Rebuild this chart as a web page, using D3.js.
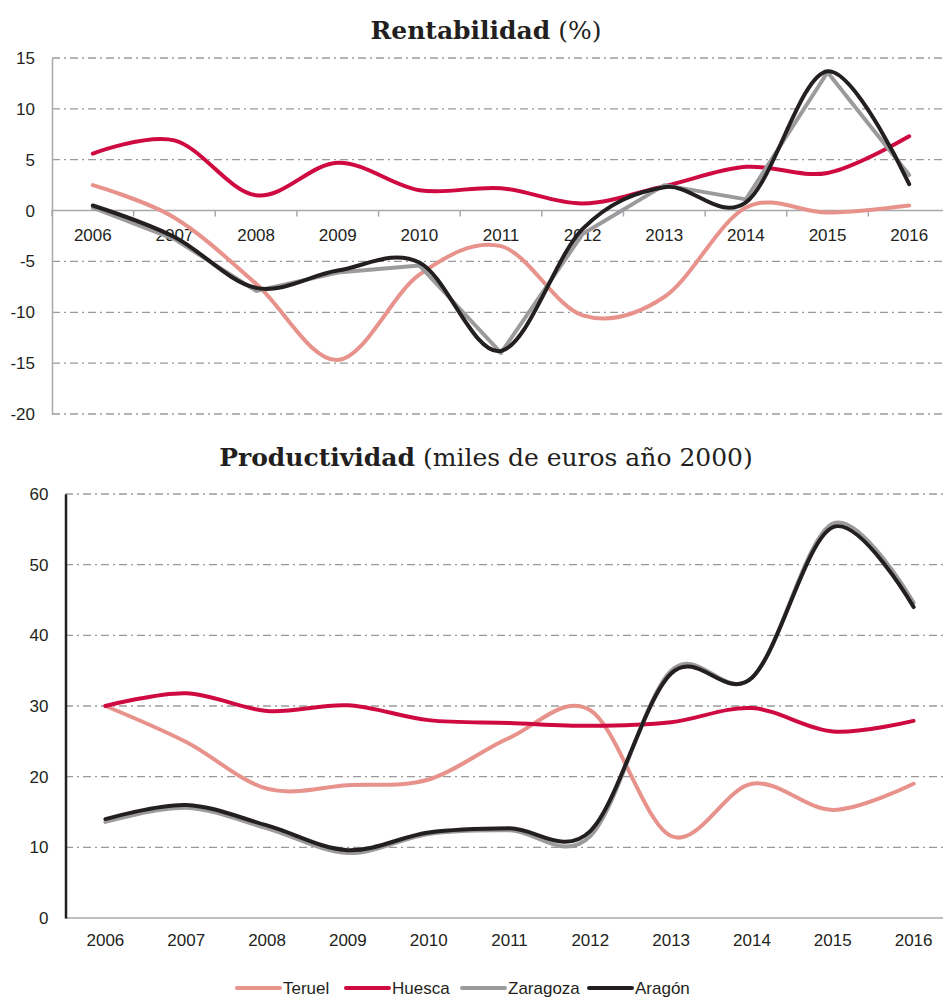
<!DOCTYPE html>
<html>
<head>
<meta charset="utf-8">
<script src="https://cdn.jsdelivr.net/npm/d3@7"></script>
<style>
  body { margin: 0; background: #fff; }
  svg { display: block; }
</style>
</head>
<body>
<div id="chart"></div>
<script>
// data
const years = ["2006","2007","2008","2009","2010","2011","2012","2013","2014","2015","2016"]
const series_names = ["Teruel", "Huesca", "Zaragoza", "Aragón"]
const series_colors = ["#e8928c", "#cf0a40", "#9b9b9e", "#231f20"]

// Rentabilidad (%)
const rent_teruel   = [2.5, -0.7, -7.2, -14.7, -6.3, -3.5, -10.3, -8.5, 0.3, -0.2, 0.5]
const rent_huesca   = [5.6, 6.9, 1.5, 4.7, 2.0, 2.2, 0.7, 2.4, 4.3, 3.7, 7.3]
const rent_zaragoza = [0.3, -2.8, -7.9, -6.1, -5.4, -14.0, -2.3, 2.5, 1.1, 13.6, 3.5]
const rent_aragon   = [0.5, -2.6, -7.6, -5.9, -5.1, -13.8, -1.8, 2.3, 0.8, 13.7, 2.6]
const rent_ticks = [15, 10, 5, 0, -5, -10, -15, -20]

// Productividad (miles de euros año 2000)
const prod_teruel   = [30.0, 24.9, 18.3, 18.8, 19.6, 25.5, 29.4, 11.6, 19.0, 15.3, 19.0]
const prod_huesca   = [30.0, 31.8, 29.3, 30.1, 28.0, 27.6, 27.2, 27.7, 29.7, 26.4, 27.9]
const prod_zaragoza = [13.6, 15.6, 12.7, 9.2, 11.9, 12.4, 11.6, 35.0, 34.0, 55.8, 44.6]
const prod_aragon   = [14.0, 16.0, 13.1, 9.6, 12.1, 12.7, 12.3, 34.6, 34.0, 55.3, 44.0]
const prod_ticks = [0, 10, 20, 30, 40, 50, 60]

const W = 943, H = 997
const grid_color = "#9a9a9a"
const grid_dash = "8,4,2,4"
const label_font = "'Liberation Sans', Arial, sans-serif"
const label_size = 17
const title_font = "'DejaVu Serif', serif"

var svg = d3.select("#chart").append("svg")
    .attr("width", W)
    .attr("height", H)

function smooth(){ return d3.curveCardinal.tension(0) }

function draw_title(y, bold, rest){
    let t = svg.append("text")
        .attr("x", 486)
        .attr("y", y)
        .attr("text-anchor", "middle")
        .attr("font-family", title_font)
        .attr("font-size", 25)
        .attr("fill", "#231f20")
    t.append("tspan").attr("font-weight", "bold").text(bold)
    t.append("tspan").attr("font-weight", "normal").text(" " + rest)
}

function draw_lines(g, x, y, values_list, curves){
    values_list.forEach((vals, i) => {
        let line = d3.line()
            .x((d, j) => x(years[j]) + x.bandwidth() / 2)
            .y(d => y(d))
            .curve(curves[i])
        g.append("path")
            .datum(vals)
            .attr("fill", "none")
            .attr("stroke", series_colors[i])
            .attr("stroke-width", 4)
            .attr("stroke-linecap", "round")
            .attr("stroke-linejoin", "round")
            .attr("d", line)
    })
}

// ---------- Top chart: Rentabilidad ----------
draw_title(39, "Rentabilidad", "(%)")

var x1 = d3.scaleBand().domain(years).range([52, 950])
var y1 = d3.scaleLinear().domain([-20, 15]).range([414, 58])

var g1 = svg.append("g")

// grid
g1.selectAll(".grid")
    .data(rent_ticks.filter(d => d != 0))
    .enter().append("line")
    .attr("x1", 52).attr("x2", W)
    .attr("y1", d => y1(d)).attr("y2", d => y1(d))
    .attr("stroke", grid_color)
    .attr("stroke-width", 1.3)
    .attr("stroke-dasharray", grid_dash)

// y axis
g1.append("g")
    .attr("transform", "translate(52,0)")
    .call(d3.axisLeft(y1).tickValues(rent_ticks).tickFormat(d => String(d)).tickSize(0).tickPadding(17))
    .call(a => a.select(".domain").attr("stroke", "#a7a9ac").attr("stroke-width", 1.5))
    .call(a => a.selectAll("text")
        .attr("font-family", label_font).attr("font-size", label_size).attr("fill", "#231f20"))

// x axis at zero
var x1_axis = g1.append("g")
    .attr("transform", "translate(0," + y1(0) + ")")
x1_axis.append("line")
    .attr("x1", 52).attr("x2", W)
    .attr("stroke", "#a7a9ac").attr("stroke-width", 1.5)
x1_axis.selectAll(".tick-mark")
    .data(years)
    .enter().append("line")
    .attr("x1", d => x1(d)).attr("x2", d => x1(d))
    .attr("y1", 0).attr("y2", 6)
    .attr("stroke", "#a7a9ac").attr("stroke-width", 1.5)
x1_axis.selectAll(".lbl")
    .data(years)
    .enter().append("text")
    .attr("x", d => x1(d) + x1.bandwidth() / 2)
    .attr("y", 30)
    .attr("text-anchor", "middle")
    .attr("font-family", label_font).attr("font-size", label_size).attr("fill", "#231f20")
    .text(d => d)

draw_lines(g1, x1, y1,
    [rent_teruel, rent_huesca, rent_zaragoza, rent_aragon],
    [smooth(), smooth(), d3.curveLinear, smooth()])

// ---------- Bottom chart: Productividad ----------
draw_title(466, "Productividad", "(miles de euros año 2000)")

var x2 = d3.scaleBand().domain(years).range([65, 954])
var y2 = d3.scaleLinear().domain([0, 60]).range([918, 494])

var g2 = svg.append("g")

g2.selectAll(".grid")
    .data(prod_ticks.filter(d => d != 0))
    .enter().append("line")
    .attr("x1", 65).attr("x2", W)
    .attr("y1", d => y2(d)).attr("y2", d => y2(d))
    .attr("stroke", grid_color)
    .attr("stroke-width", 1.3)
    .attr("stroke-dasharray", grid_dash)

// x axis
g2.append("line")
    .attr("x1", 65).attr("x2", W)
    .attr("y1", y2(0)).attr("y2", y2(0))
    .attr("stroke", "#a7a9ac").attr("stroke-width", 1.5)

g2.append("g")
    .attr("transform", "translate(0," + y2(0) + ")")
    .call(d3.axisBottom(x2).tickSize(0).tickPadding(16))
    .call(a => a.select(".domain").remove())
    .call(a => a.selectAll("text")
        .attr("font-family", label_font).attr("font-size", label_size).attr("fill", "#231f20"))

// y axis
g2.append("g")
    .attr("transform", "translate(65.5,0)")
    .call(d3.axisLeft(y2).tickValues(prod_ticks).tickSize(0).tickPadding(17))
    .call(a => a.select(".domain").attr("stroke", "#231f20").attr("stroke-width", 2.5))
    .call(a => a.selectAll("text")
        .attr("font-family", label_font).attr("font-size", label_size).attr("fill", "#231f20"))

draw_lines(g2, x2, y2,
    [prod_teruel, prod_huesca, prod_zaragoza, prod_aragon],
    [smooth(), smooth(), smooth(), smooth()])

// ---------- Legend ----------
const legend_x = [237, 346, 462, 589]
var legend = svg.append("g").attr("transform", "translate(0,988)")
series_names.forEach((name, i) => {
    legend.append("line")
        .attr("x1", legend_x[i]).attr("x2", legend_x[i] + 43)
        .attr("stroke", series_colors[i])
        .attr("stroke-width", 4)
        .attr("stroke-linecap", "round")
    legend.append("text")
        .attr("x", legend_x[i] + 46)
        .attr("y", 6)
        .attr("font-family", label_font).attr("font-size", label_size).attr("fill", "#231f20")
        .text(name)
})
</script>
</body>
</html>
